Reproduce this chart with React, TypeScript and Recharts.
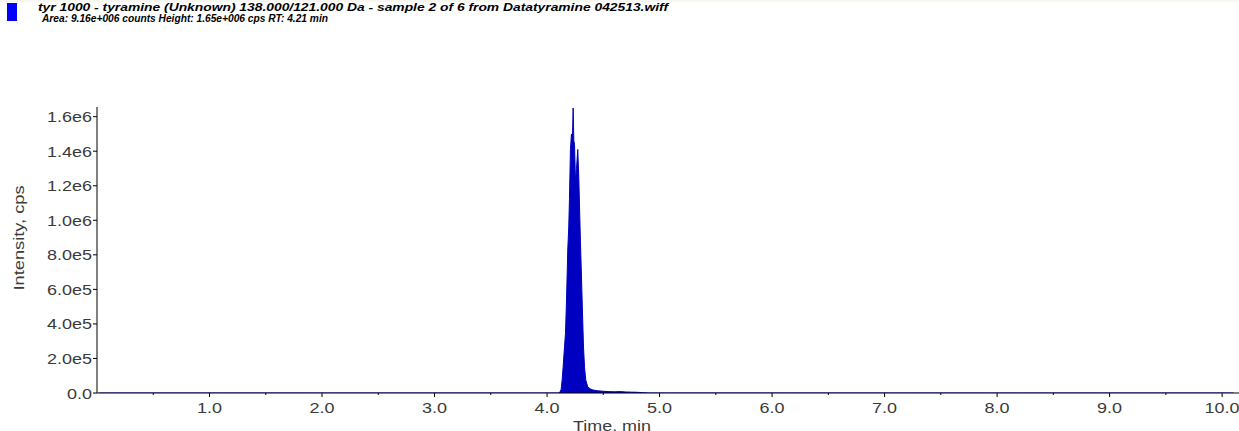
import React from "react";
import { AreaChart, Area, XAxis, YAxis, Customized } from "recharts";

// retention time (min) and signal (cps) for the 138/121 transition
const times = [
  0.02, 4.11, 4.125, 4.134, 4.143, 4.155, 4.164, 4.173, 4.184, 4.193, 4.199,
  4.208, 4.217, 4.226, 4.232, 4.238, 4.244, 4.253, 4.262, 4.273, 4.282, 4.291,
  4.297, 4.306, 4.315, 4.324, 4.333, 4.344, 4.362, 4.386, 4.41, 4.45, 4.5,
  4.55, 4.6, 4.65, 4.7, 4.75, 4.8, 4.85, 4.9, 10.1,
];
const intensity = [
  0, 0, 20000, 75000, 150000, 266000, 347000, 538000, 828000, 961000, 1120000,
  1410000, 1500000, 1480000, 1650000, 1460000, 1440000, 1220000, 1300000,
  1410000, 1250000, 1020000, 870000, 672000, 463000, 266000, 150000, 75000,
  35000, 23000, 17000, 13000, 10000, 8000, 7000, 8000, 6000, 5000, 4000, 2000,
  0, 0,
];

const xMajor = [1, 2, 3, 4, 5, 6, 7, 8, 9, 10];
const xMinor = [0.5, 1.5, 2.5, 3.5, 4.5, 5.5, 6.5, 7.5, 8.5, 9.5];
const yMajor = [0, 2e5, 4e5, 6e5, 8e5, 1e6, 1.2e6, 1.4e6, 1.6e6];
const yLabels = ["0.0", "2.0e5", "4.0e5", "6.0e5", "8.0e5", "1.0e6", "1.2e6", "1.4e6", "1.6e6"];
const yMinor = [1e5, 3e5, 5e5, 7e5, 9e5, 1.1e6, 1.3e6, 1.5e6];

const titleLine1 =
  "tyr 1000 - tyramine (Unknown) 138.000/121.000 Da - sample 2 of 6 from Datatyramine 042513.wiff";
const titleLine2 = "Area: 9.16e+006 counts  Height: 1.65e+006 cps  RT: 4.21 min";

const data = times.map((t, i) => ({ t, v: intensity[i] }));

const FONT = "'Liberation Sans', Arial, sans-serif";
const W = 1239;
const H = 431;
const FS = 15;
const STRETCH = 1.2;

// the axis font is drawn a little wider than normal; digits and 'e' are 0.556em, '.' is 0.278em
function numWidth(s: string) {
  let w = 0;
  for (const c of s) w += c === "." ? 0.278 : 0.556;
  return w * FS * STRETCH;
}

function XTick({ x, y, payload }: any) {
  const major = xMajor.includes(payload.value);
  const label = payload.value.toFixed(1);
  return (
    <g>
      <line x1={x} y1={y} x2={x} y2={y + (major ? 4 : 2)} stroke="#000" />
      {major && (
        <text
          x={x}
          y={y + 20}
          textAnchor="middle"
          fontSize={FS}
          fill="#3a3a3a"
          fontFamily={FONT}
          textLength={numWidth(label)}
          lengthAdjust="spacingAndGlyphs"
        >
          {label}
        </text>
      )}
    </g>
  );
}

function YTick({ x, y, payload }: any) {
  const idx = yMajor.indexOf(payload.value);
  const major = idx >= 0;
  return (
    <g>
      <line x1={x} y1={y} x2={x - (major ? 4 : 2)} y2={y} stroke="#000" />
      {major && (
        <text
          x={x - 5}
          y={y + 5.5}
          textAnchor="end"
          fontSize={FS}
          fill="#3a3a3a"
          fontFamily={FONT}
          textLength={numWidth(yLabels[idx])}
          lengthAdjust="spacingAndGlyphs"
        >
          {yLabels[idx]}
        </text>
      )}
    </g>
  );
}

function Header() {
  return (
    <g fontFamily={FONT} fontWeight="bold" fontStyle="italic" fontSize={10} fill="#000">
      <line x1={0} y1={1} x2={W} y2={1} stroke="#efeee0" />
      <rect x={7} y={3} width={10} height={18} fill="#0000ff" />
      <text x={38} y={11} textLength={630} lengthAdjust="spacingAndGlyphs">
        {titleLine1}
      </text>
      <text x={42} y={21.5} textLength={286} lengthAdjust="spacingAndGlyphs">
        {titleLine2}
      </text>
    </g>
  );
}

function AxisTitles() {
  return (
    <g fontFamily={FONT} fontSize={FS} fill="#3a3a3a">
      <text
        x={18}
        y={238}
        transform="rotate(-90 18 238)"
        textAnchor="middle"
        dominantBaseline="central"
        textLength={105}
        lengthAdjust="spacingAndGlyphs"
      >
        Intensity, cps
      </text>
      <text x={612} y={431} textAnchor="middle" textLength={78} lengthAdjust="spacingAndGlyphs">
        Time, min
      </text>
    </g>
  );
}

export default function App() {
  return (
    <div style={{ position: "absolute", left: 0, top: 0, background: "#fff" }}>
      <AreaChart
        width={W}
        height={H}
        data={data}
        margin={{ top: 107, right: 0, bottom: 0, left: 0 }}
      >
        <XAxis
          dataKey="t"
          type="number"
          domain={[0, 10.15]}
          ticks={[...xMinor, ...xMajor].sort((a, b) => a - b)}
          tick={<XTick />}
          tickSize={0}
          tickMargin={0}
          tickLine={false}
          axisLine={{ stroke: "#000" }}
          allowDataOverflow
          height={38}
        />
        <YAxis
          type="number"
          domain={[0, 1656000]}
          ticks={[...yMinor, ...yMajor].sort((a, b) => a - b)}
          tick={<YTick />}
          tickSize={0}
          tickMargin={0}
          tickLine={false}
          axisLine={{ stroke: "#000" }}
          allowDataOverflow
          width={97}
        />
        <Area
          type="linear"
          dataKey="v"
          stroke="#0000c0"
          strokeWidth={1}
          fill="#0000c0"
          fillOpacity={1}
          isAnimationActive={false}
          dot={false}
          activeDot={false}
        />
        <Customized component={<Header />} />
        <Customized component={<AxisTitles />} />
      </AreaChart>
    </div>
  );
}
